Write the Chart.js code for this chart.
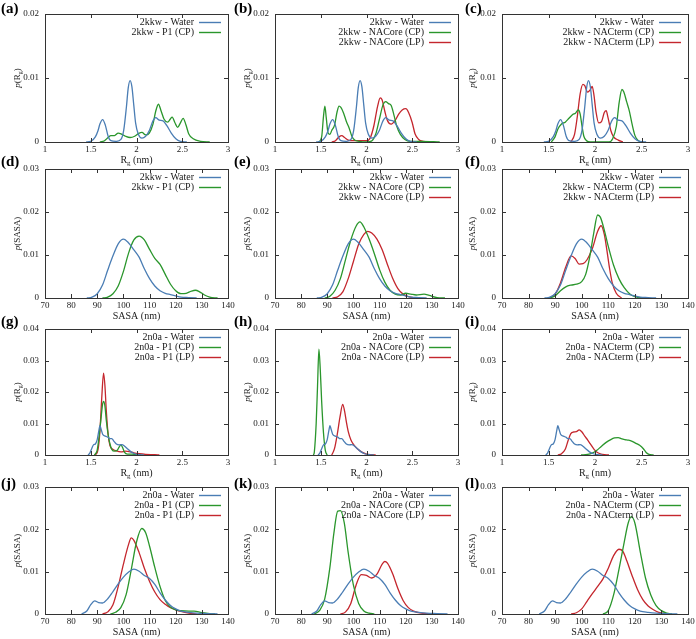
<!DOCTYPE html>
<html>
<head>
<meta charset="utf-8">
<script src="https://cdn.jsdelivr.net/npm/chart.js@4.4.1/dist/chart.umd.min.js"></script>
<style>
  html, body { margin: 0; padding: 0; background: #fff; }
  #fig { position: relative; width: 696px; height: 639px; overflow: hidden; }
  #fig canvas { position: absolute; }
</style>
</head>
<body>
<div id="fig"></div>
<script>
// ---- data: [x, probability] pairs ----
// Rg (nm), 2kkw
const rgWater2kkw = [[1.45,0],[1.5,0.0001],[1.55,0.0008],[1.58,0.0018],[1.6,0.0028],[1.63,0.0035],[1.66,0.0026],[1.69,0.0009],[1.72,0.0002],[1.78,0.0001],[1.83,0.0004],[1.86,0.0018],[1.89,0.0055],[1.91,0.0085],[1.93,0.0096],[1.95,0.0086],[1.97,0.0058],[1.99,0.003],[2.02,0.0012],[2.06,0.0006],[2.1,0.0009],[2.14,0.0018],[2.18,0.0033],[2.21,0.0038],[2.25,0.0034],[2.29,0.0033],[2.33,0.0026],[2.38,0.0014],[2.43,0.0005],[2.48,0.0001],[2.55,0]];
const rgP1cp2kkw = [[1.6,0],[1.65,0.0002],[1.69,0.0007],[1.72,0.001],[1.76,0.001],[1.8,0.0014],[1.84,0.0012],[1.88,0.0009],[1.93,0.0007],[1.98,0.0009],[2.02,0.0013],[2.06,0.0015],[2.1,0.0011],[2.14,0.0014],[2.18,0.0028],[2.21,0.0048],[2.24,0.0059],[2.27,0.0048],[2.3,0.0036],[2.34,0.0031],[2.37,0.0036],[2.39,0.0039],[2.42,0.003],[2.45,0.0023],[2.48,0.003],[2.51,0.0037],[2.54,0.0027],[2.57,0.0013],[2.62,0.0005],[2.7,0.0001],[2.8,0]];
const rgNACoreCP2kkw = [[1.48,0],[1.51,0.0008],[1.53,0.004],[1.545,0.0056],[1.56,0.0038],[1.58,0.0014],[1.6,0.0012],[1.62,0.0018],[1.65,0.0026],[1.68,0.0048],[1.7,0.0056],[1.72,0.0054],[1.75,0.0045],[1.78,0.0032],[1.81,0.0022],[1.84,0.0009],[1.87,0.0003],[1.92,0.0001],[2.0,0],[2.06,0.0002],[2.1,0.0012],[2.14,0.0035],[2.18,0.0058],[2.21,0.0063],[2.24,0.006],[2.27,0.0057],[2.3,0.0042],[2.33,0.0025],[2.37,0.0012],[2.42,0.0004],[2.48,0.0001],[2.6,0.0001],[2.8,0]];
const rgNACoreLP2kkw = [[1.62,0],[1.66,0.0002],[1.7,0.0008],[1.73,0.001],[1.76,0.0007],[1.8,0.0003],[1.85,0.0002],[1.9,0.0002],[1.95,0.0002],[2.0,0.0002],[2.04,0.0006],[2.08,0.0025],[2.12,0.0055],[2.15,0.0069],[2.17,0.0066],[2.2,0.0048],[2.23,0.0033],[2.27,0.0028],[2.31,0.0033],[2.35,0.0043],[2.39,0.005],[2.43,0.0052],[2.46,0.0046],[2.5,0.003],[2.53,0.0013],[2.57,0.0004],[2.62,0.0001],[2.7,0]];
const rgNACtermCP2kkw = [[1.53,0],[1.57,0.0008],[1.6,0.002],[1.64,0.0028],[1.68,0.0031],[1.72,0.0037],[1.76,0.0043],[1.79,0.0045],[1.82,0.005],[1.84,0.0044],[1.86,0.0025],[1.88,0.0009],[1.91,0.0002],[1.95,0],[2.15,0],[2.19,0.0005],[2.23,0.0025],[2.26,0.0062],[2.29,0.0082],[2.31,0.0078],[2.34,0.0063],[2.37,0.0048],[2.4,0.0027],[2.43,0.001],[2.46,0.0003],[2.5,0]];
const rgNACtermLP2kkw = [[1.74,0],[1.78,0.0012],[1.81,0.004],[1.84,0.0075],[1.87,0.009],[1.89,0.0088],[1.92,0.0078],[1.95,0.0082],[1.97,0.0087],[1.99,0.0072],[2.01,0.0048],[2.04,0.003],[2.07,0.0032],[2.1,0.0046],[2.12,0.0049],[2.14,0.0038],[2.17,0.0018],[2.2,0.0008],[2.25,0.0003],[2.3,0]];

// SASA (nm), 2kkw
const sasaWater2kkw = [[86,0],[88,0.0002],[90,0.001],[92,0.003],[94,0.0065],[96,0.0098],[98,0.0126],[100,0.0137],[102,0.0128],[104,0.0112],[106,0.0095],[108,0.0068],[110,0.0045],[112,0.0028],[114,0.0017],[116,0.0011],[118,0.0008],[120,0.0005],[122,0.0002],[125,0.0001],[128,0]];
const sasaP1cp2kkw = [[92,0],[94,0.0002],[96,0.001],[98,0.0028],[100,0.0062],[102,0.0105],[104,0.0135],[106,0.0144],[108,0.0135],[110,0.0113],[112,0.0092],[114,0.0078],[116,0.0055],[118,0.0032],[120,0.0017],[122,0.001],[124,0.0011],[126,0.0016],[127.5,0.0018],[129,0.0015],[131,0.0007],[133,0.0002],[136,0]];
const sasaNACoreCP2kkw = [[89,0],[91,0.0004],[93,0.0018],[95,0.0045],[97,0.009],[99,0.0135],[101,0.0167],[102.5,0.0177],[104,0.0165],[106,0.0137],[108,0.0103],[110,0.0066],[112,0.0037],[114,0.0018],[116,0.0009],[118,0.0007],[120,0.0011],[122,0.0009],[124,0.0007],[127,0.0009],[129,0.0006],[132,0.0001],[135,0]];
const sasaNACoreLP2kkw = [[92,0],[94,0.0003],[96,0.0015],[98,0.0045],[100,0.0085],[102,0.0125],[104,0.0148],[105.5,0.0155],[107,0.0151],[109,0.0137],[111,0.0112],[113,0.0078],[115,0.0046],[117,0.0022],[119,0.0009],[121,0.0003],[124,0]];
const sasaNACtermCP2kkw = [[88,0],[90,0.0005],[92,0.0017],[94,0.0026],[96,0.003],[98,0.0032],[100,0.0038],[101.5,0.0055],[103,0.0095],[104.5,0.015],[106,0.0193],[107,0.0188],[108.5,0.0158],[110,0.012],[112,0.0076],[114,0.0045],[116,0.0024],[118,0.001],[120,0.0003],[123,0]];
const sasaNACtermLP2kkw = [[88,0],[90,0.0009],[92,0.0035],[94,0.0072],[96,0.0098],[97.5,0.0092],[99,0.0079],[100.5,0.008],[102,0.0089],[104,0.0115],[106,0.0155],[107.3,0.0168],[108.5,0.0148],[109.5,0.011],[110.5,0.0068],[111.5,0.0035],[113,0.0011],[115,0]];

// Rg (nm), 2n0a
const rgWater2n0a = [[1.47,0],[1.49,0.0006],[1.51,0.002],[1.53,0.0032],[1.55,0.0035],[1.57,0.0048],[1.59,0.008],[1.6,0.0093],[1.61,0.0085],[1.63,0.0066],[1.66,0.006],[1.69,0.0056],[1.71,0.0052],[1.73,0.0052],[1.75,0.0045],[1.78,0.0035],[1.81,0.0032],[1.84,0.0033],[1.87,0.0028],[1.9,0.002],[1.94,0.001],[1.98,0.0004],[2.03,0.0001],[2.08,0]];
const rgP1cp2n0a = [[1.54,0],[1.57,0.0015],[1.59,0.0055],[1.61,0.011],[1.63,0.0162],[1.64,0.017],[1.655,0.0155],[1.67,0.011],[1.69,0.0065],[1.71,0.0035],[1.73,0.0018],[1.76,0.0012],[1.79,0.0015],[1.81,0.0025],[1.83,0.0032],[1.85,0.0022],[1.87,0.0008],[1.9,0.0003],[1.95,0.0003],[2.0,0.0001],[2.05,0]];
const rgP1lp2n0a = [[1.55,0],[1.58,0.0018],[1.6,0.0075],[1.62,0.018],[1.64,0.026],[1.655,0.022],[1.67,0.014],[1.69,0.0065],[1.71,0.003],[1.74,0.0018],[1.78,0.0013],[1.83,0.001],[1.88,0.0012],[1.92,0.0011],[1.97,0.0007],[2.03,0.0004],[2.1,0.0002],[2.2,0.0001],[2.25,0]];
const rgNACoreCP2n0a = [[1.42,0],[1.43,0.001],[1.45,0.01],[1.465,0.022],[1.48,0.0336],[1.495,0.027],[1.51,0.017],[1.53,0.007],[1.55,0.0015],[1.57,0]];
const rgNACoreLP2n0a = [[1.62,0],[1.65,0.002],[1.68,0.0065],[1.71,0.012],[1.74,0.0161],[1.76,0.014],[1.78,0.0105],[1.8,0.0075],[1.83,0.0048],[1.86,0.0033],[1.9,0.002],[1.95,0.0009],[2.0,0.0003],[2.06,0.0001],[2.1,0]];
const rgNACtermCP2n0a = [[1.85,0],[1.92,0.0002],[1.97,0.0006],[2.02,0.0015],[2.07,0.0028],[2.12,0.004],[2.17,0.0049],[2.21,0.0054],[2.25,0.0055],[2.28,0.0052],[2.32,0.0049],[2.36,0.0047],[2.4,0.0043],[2.44,0.0037],[2.48,0.0031],[2.52,0.002],[2.55,0.0008],[2.58,0.0002],[2.63,0]];
const rgNACtermLP2n0a = [[1.6,0],[1.64,0.0004],[1.68,0.0018],[1.71,0.0045],[1.74,0.0068],[1.77,0.0073],[1.8,0.0074],[1.83,0.008],[1.86,0.0073],[1.89,0.006],[1.92,0.0048],[1.95,0.0035],[1.99,0.0018],[2.03,0.0007],[2.08,0.0002],[2.15,0]];

// SASA (nm), 2n0a
const sasaWater2n0a = [[84,0],[86,0.0007],[87.5,0.0022],[89,0.0031],[90.5,0.0027],[92,0.0026],[94,0.0036],[96,0.0053],[98,0.0071],[100,0.0087],[102,0.0099],[104,0.0106],[106,0.0101],[108,0.0091],[110,0.0084],[112,0.007],[114,0.005],[116,0.0033],[118,0.002],[120,0.0012],[122,0.0007],[125,0.0004],[128,0.0002],[132,0.0001],[136,0]];
const sasaP1cp2n0a = [[95,0],[97,0.0004],[99,0.0015],[101,0.0045],[103,0.0105],[105,0.017],[107,0.0202],[108.5,0.0192],[110,0.016],[112,0.011],[114,0.0065],[116,0.0032],[118,0.0016],[120,0.001],[122,0.0008],[125,0.0007],[127,0.0007],[130,0.0003],[133,0.0001],[135,0]];
const sasaP1lp2n0a = [[92,0],[94,0.0005],[96,0.0022],[98,0.0065],[100,0.0118],[102,0.0165],[103,0.018],[104,0.0174],[106,0.0145],[108,0.0108],[110,0.0077],[112,0.0052],[114,0.0034],[116,0.0023],[118,0.0015],[120,0.001],[122,0.0006],[125,0.0002],[128,0]];
const sasaNACoreCP2n0a = [[85,0],[87,0.0008],[89,0.0035],[91,0.011],[92.5,0.019],[94,0.0243],[95,0.0244],[96.5,0.0215],[98,0.0145],[100,0.0068],[102,0.0025],[104,0.0007],[106,0.0002],[108,0]];
const sasaNACoreLP2n0a = [[95,0],[97,0.0005],[99,0.0025],[101,0.0068],[103,0.0093],[105,0.0091],[107,0.0085],[109,0.0094],[111,0.0118],[112,0.0124],[113,0.012],[115,0.0095],[117,0.006],[119,0.0032],[121,0.0015],[123,0.0007],[126,0.0002],[130,0]];
const sasaNACtermCP2n0a = [[108,0],[110,0.0008],[112,0.0045],[114,0.0105],[116,0.017],[117.5,0.0215],[118.7,0.023],[120,0.0215],[122,0.0148],[124,0.0085],[126,0.0045],[128,0.002],[130,0.0008],[132,0.0002],[134,0]];
const sasaNACtermLP2n0a = [[96,0],[98,0.0003],[100,0.0012],[102,0.003],[104,0.0048],[106,0.0065],[108,0.0083],[110,0.0108],[112,0.0138],[114,0.0153],[115.5,0.0148],[117,0.0125],[119,0.009],[121,0.0058],[123,0.0034],[125,0.0019],[127,0.001],[129,0.0004],[132,0]];

// ---- style ----
const FONT = '"Liberation Serif", "Times New Roman", serif';
const INK = "#1a1a1a";
const BLUE = "#4a7db4";
const GREEN = "#2a962c";
const RED = "#c4262d";

// placement of the 12 plot boxes on the page (px)
const colLeft = [0, 230, 460];
const plotLeft = [45, 275, 502];
const plotRight = [228, 458, 688];
const plotTop = [14, 169, 329, 487];
const plotBottom = [142, 298, 455, 614];
const labelX = [1, 234, 465];
const labelBase = [13, 166, 326, 488];
const yTitleX = [18, 248, 473];

const panels = [
  { tag: "(a)", kind: "rg", ymax: 0.02, sys: "2kkw", series: [["Water", rgWater2kkw, BLUE], ["P1 (CP)", rgP1cp2kkw, GREEN]] },
  { tag: "(b)", kind: "rg", ymax: 0.02, sys: "2kkw", series: [["Water", rgWater2kkw, BLUE], ["NACore (CP)", rgNACoreCP2kkw, GREEN], ["NACore (LP)", rgNACoreLP2kkw, RED]] },
  { tag: "(c)", kind: "rg", ymax: 0.02, sys: "2kkw", series: [["Water", rgWater2kkw, BLUE], ["NACterm (CP)", rgNACtermCP2kkw, GREEN], ["NACterm (LP)", rgNACtermLP2kkw, RED]] },
  { tag: "(d)", kind: "sasa", ymax: 0.03, sys: "2kkw", series: [["Water", sasaWater2kkw, BLUE], ["P1 (CP)", sasaP1cp2kkw, GREEN]] },
  { tag: "(e)", kind: "sasa", ymax: 0.03, sys: "2kkw", series: [["Water", sasaWater2kkw, BLUE], ["NACore (CP)", sasaNACoreCP2kkw, GREEN], ["NACore (LP)", sasaNACoreLP2kkw, RED]] },
  { tag: "(f)", kind: "sasa", ymax: 0.03, sys: "2kkw", series: [["Water", sasaWater2kkw, BLUE], ["NACterm (CP)", sasaNACtermCP2kkw, GREEN], ["NACterm (LP)", sasaNACtermLP2kkw, RED]] },
  { tag: "(g)", kind: "rg", ymax: 0.04, sys: "2n0a", series: [["Water", rgWater2n0a, BLUE], ["P1 (CP)", rgP1cp2n0a, GREEN], ["P1 (LP)", rgP1lp2n0a, RED]] },
  { tag: "(h)", kind: "rg", ymax: 0.04, sys: "2n0a", series: [["Water", rgWater2n0a, BLUE], ["NACore (CP)", rgNACoreCP2n0a, GREEN], ["NACore (LP)", rgNACoreLP2n0a, RED]] },
  { tag: "(i)", kind: "rg", ymax: 0.04, sys: "2n0a", series: [["Water", rgWater2n0a, BLUE], ["NACterm (CP)", rgNACtermCP2n0a, GREEN], ["NACterm (LP)", rgNACtermLP2n0a, RED]] },
  { tag: "(j)", kind: "sasa", ymax: 0.03, sys: "2n0a", series: [["Water", sasaWater2n0a, BLUE], ["P1 (CP)", sasaP1cp2n0a, GREEN], ["P1 (LP)", sasaP1lp2n0a, RED]] },
  { tag: "(k)", kind: "sasa", ymax: 0.03, sys: "2n0a", series: [["Water", sasaWater2n0a, BLUE], ["NACore (CP)", sasaNACoreCP2n0a, GREEN], ["NACore (LP)", sasaNACoreLP2n0a, RED]] },
  { tag: "(l)", kind: "sasa", ymax: 0.03, sys: "2n0a", series: [["Water", sasaWater2n0a, BLUE], ["NACterm (CP)", sasaNACtermCP2n0a, GREEN], ["NACterm (LP)", sasaNACtermLP2n0a, RED]] },
];

// text with italic / subscript pieces: parts = [[text, "i" | "s" | ""], ...]
function pieceFont(st, size) {
  if (st === "i") return `italic ${size}px ${FONT}`;
  if (st === "s") return `${Math.round(size * 0.7)}px ${FONT}`;
  return `${size}px ${FONT}`;
}
function richWidth(ctx, parts, size) {
  let w = 0;
  for (const [t, st] of parts) {
    ctx.font = pieceFont(st, size);
    w += ctx.measureText(t).width;
  }
  return w;
}
function drawRich(ctx, parts, cx, y, size) {
  let x = cx - richWidth(ctx, parts, size) / 2;
  ctx.textAlign = "left";
  ctx.textBaseline = "middle";
  for (const [t, st] of parts) {
    ctx.font = pieceFont(st, size);
    ctx.fillText(t, x, st === "s" ? y + size * 0.3 : y);
    x += ctx.measureText(t).width;
  }
}

const fig = document.getElementById("fig");
const X_AXIS_H = 14;

panels.forEach((p, idx) => {
  const r = Math.floor(idx / 3);
  const c = idx % 3;
  const L = colLeft[c];
  const T = plotTop[r] - 16;
  const W = plotRight[c] + 8 - L;
  const H = plotBottom[r] - plotTop[r] + 16 + 30;
  const isRg = p.kind === "rg";

  const cv = document.createElement("canvas");
  cv.width = W;
  cv.height = H;
  cv.style.left = L + "px";
  cv.style.top = T + "px";
  cv.style.width = W + "px";
  cv.style.height = H + "px";
  fig.appendChild(cv);

  // frame, inward ticks, legend, titles, panel tag
  const gnuFrame = {
    id: "gnuFrame",
    afterDraw(chart) {
      const { ctx, chartArea: a, scales } = chart;
      ctx.save();
      ctx.strokeStyle = "#333";
      ctx.lineWidth = 1;
      ctx.strokeRect(a.left + 0.5, a.top + 0.5, a.right - a.left, a.bottom - a.top);

      ctx.beginPath();
      scales.x.ticks.forEach((t) => {
        const px = Math.round(scales.x.getPixelForValue(t.value)) + 0.5;
        ctx.moveTo(px, a.bottom); ctx.lineTo(px, a.bottom - 4);
        ctx.moveTo(px, a.top); ctx.lineTo(px, a.top + 4);
      });
      scales.y.ticks.forEach((t) => {
        const py = Math.round(scales.y.getPixelForValue(t.value)) + 0.5;
        ctx.moveTo(a.left, py); ctx.lineTo(a.left + 4, py);
        ctx.moveTo(a.right, py); ctx.lineTo(a.right - 4, py);
      });
      ctx.stroke();

      // legend, gnuplot style: text right-aligned, sample line on the right
      ctx.font = `10px ${FONT}`;
      ctx.fillStyle = INK;
      ctx.textAlign = "right";
      ctx.textBaseline = "middle";
      chart.data.datasets.forEach((ds, i) => {
        const y = a.top + 8 + 10 * i;
        ctx.fillText(ds.label, a.right - 34, y);
        ctx.strokeStyle = ds.borderColor;
        ctx.lineWidth = 1.4;
        ctx.beginPath();
        ctx.moveTo(a.right - 29, y + 0.5);
        ctx.lineTo(a.right - 7, y + 0.5);
        ctx.stroke();
      });

      // axis titles
      ctx.fillStyle = INK;
      const xParts = isRg ? [["R", ""], ["g", "s"], [" (nm)", ""]] : [["SASA (nm)", ""]];
      drawRich(ctx, xParts, (a.left + a.right) / 2, a.bottom + 18, 10);
      const yParts = isRg ? [["p", "i"], ["(R", ""], ["g", "s"], [")", ""]] : [["p", "i"], ["(SASA)", ""]];
      ctx.save();
      ctx.translate(yTitleX[c] - L, (a.top + a.bottom) / 2);
      ctx.rotate(-Math.PI / 2);
      drawRich(ctx, yParts, 0, 0, 9);
      ctx.restore();

      // panel tag
      ctx.font = `bold 15px ${FONT}`;
      ctx.textAlign = "left";
      ctx.textBaseline = "alphabetic";
      ctx.fillStyle = "#000";
      ctx.fillText(p.tag, labelX[c] - L, labelBase[r] - T);
      ctx.restore();
    },
  };

  new Chart(cv, {
    type: "line",
    data: {
      datasets: p.series.map((s) => ({
        label: `${p.sys} - ${s[0]}`,
        data: s[1].map((q) => ({ x: q[0], y: q[1] })),
        borderColor: s[2],
        borderWidth: 1.3,
        pointRadius: 0,
        fill: false,
        cubicInterpolationMode: "monotone",
      })),
    },
    options: {
      responsive: false,
      animation: false,
      devicePixelRatio: 1,
      layout: { padding: { left: 0, top: 16, right: 8, bottom: 30 - X_AXIS_H } },
      plugins: { legend: { display: false }, tooltip: { enabled: false } },
      scales: {
        x: {
          type: "linear",
          min: isRg ? 1 : 70,
          max: isRg ? 3 : 140,
          grid: { display: false, drawTicks: false },
          border: { display: false },
          ticks: {
            stepSize: isRg ? 0.5 : 10,
            autoSkip: false,
            maxRotation: 0,
            padding: 2,
            color: INK,
            font: { family: FONT, size: 9 },
            callback: (v) => String(+v.toFixed(3)),
          },
          afterFit: (s) => { s.height = X_AXIS_H; s.paddingLeft = 0; s.paddingRight = 0; },
        },
        y: {
          min: 0,
          max: p.ymax,
          grid: { display: false, drawTicks: false },
          border: { display: false },
          ticks: {
            stepSize: 0.01,
            padding: 6,
            color: INK,
            font: { family: FONT, size: 9 },
            callback: (v) => String(+v.toFixed(3)),
          },
          afterFit: (s) => { s.width = plotLeft[c] - L; s.paddingTop = 0; s.paddingBottom = 0; },
        },
      },
    },
    plugins: [gnuFrame],
  });
});
</script>
</body>
</html>
